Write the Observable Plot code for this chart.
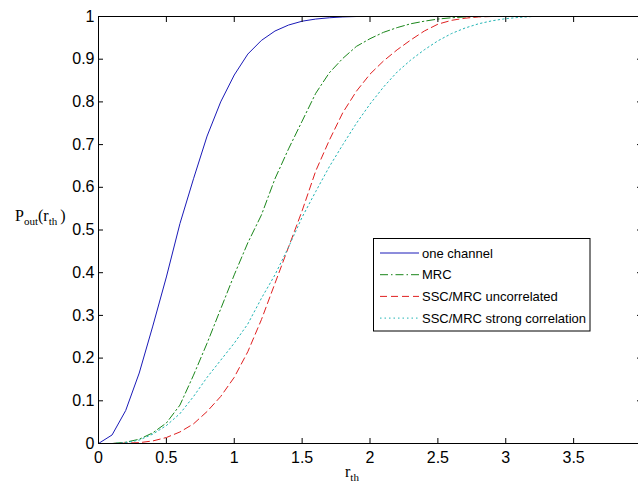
<!DOCTYPE html>
<html><head><meta charset="utf-8">
<script src="https://cdn.jsdelivr.net/npm/d3@7"></script>
<script src="https://cdn.jsdelivr.net/npm/@observablehq/plot@0.6"></script>
<style>
html,body{margin:0;padding:0;background:#fff;overflow:hidden;width:638px;height:484px}
#chart{position:relative;width:645px;height:484px}
</style></head><body><div id="chart"></div>
<script>
const xs = [0,0.1,0.2,0.3,0.4,0.5,0.6,0.7,0.8,0.9,1.0,1.1,1.2,1.3,1.4,1.5,1.6,1.7,1.8,1.9,2.0,2.1,2.2,2.3,2.4,2.5,2.6,2.7,2.8,2.9,3.0,3.1,3.2,4.0];
const oneChannel = [0,0.02,0.077,0.165,0.275,0.39,0.515,0.62,0.72,0.80,0.863,0.912,0.944,0.966,0.98,0.989,0.994,0.997,0.999,1,1,1,1,1,1,1,1,1,1,1,1,1,1,1];
const mrc = [0,0,0.003,0.01,0.025,0.048,0.09,0.16,0.235,0.315,0.395,0.47,0.535,0.62,0.69,0.755,0.82,0.868,0.902,0.93,0.948,0.963,0.974,0.983,0.989,0.994,0.997,0.999,1,1,1,1,1,1];
const sscUncorrelated = [0,0,0.001,0.002,0.006,0.014,0.027,0.046,0.075,0.11,0.155,0.215,0.29,0.375,0.46,0.545,0.638,0.71,0.775,0.825,0.865,0.896,0.922,0.945,0.966,0.982,0.991,0.996,0.999,1,1,1,1,1];
const sscStrongCorr = [0,0,0.002,0.008,0.022,0.042,0.07,0.11,0.155,0.195,0.235,0.28,0.34,0.395,0.46,0.53,0.59,0.648,0.70,0.75,0.795,0.835,0.87,0.898,0.922,0.943,0.96,0.973,0.983,0.99,0.995,0.998,1,1];

const seriesNames = ["one channel","MRC","SSC/MRC uncorrelated","SSC/MRC strong correlation"];
const seriesColors = ["#1a1ab8","#1a861a","#e02020","#20b4b4"];
const seriesDash = [null,"8,3,1.5,3","7,4","1.5,3"];
const xTicks = [0,0.5,1,1.5,2,2.5,3,3.5,4];
const xTickLabels = ["0","0.5","1","1.5","2","2.5","3","3.5",""];
const yTicks = [0,0.1,0.2,0.3,0.4,0.5,0.6,0.7,0.8,0.9,1];
const yTickLabels = ["0","0.1","0.2","0.3","0.4","0.5","0.6","0.7","0.8","0.9","1"];

const seriesValues = [oneChannel, mrc, sscUncorrelated, sscStrongCorr];
const rows = [];
seriesValues.forEach((vals, i) => vals.forEach((v, j) => rows.push({x: xs[j], y: v, s: seriesNames[i]})));

const tickFont = "'Liberation Sans Narrow','Arial Narrow','Liberation Sans',sans-serif";
const W = 645, H = 484;
const chart = Plot.plot({
  width: W, height: H,
  marginLeft: 98, marginRight: 4, marginTop: 16, marginBottom: 41,
  x: {domain: [0, 4], label: null},
  y: {domain: [0, 1], label: null},
  style: {fontFamily: tickFont, fontSize: "16px", color: "#000", background: "#fff", overflow: "visible"},
  marks: [
    ...seriesNames.map((n, i) => Plot.line(rows.filter(r => r.s === n), {
      x: "x", y: "y", stroke: seriesColors[i], strokeWidth: 1, strokeDasharray: seriesDash[i]
    })),
    Plot.axisX(xTicks, {anchor: "bottom", tickSize: -5, tickPadding: 13, label: null, stroke: "#000",
      tickFormat: d => xTickLabels[xTicks.indexOf(d)]}),
    Plot.axisX(xTicks, {anchor: "top", tickSize: -5, label: null, stroke: "#000", tickFormat: () => ""}),
    Plot.axisY(yTicks, {anchor: "left", tickSize: -5, tickPadding: 9, label: null, stroke: "#000",
      tickFormat: d => yTickLabels[yTicks.indexOf(d)]}),
    Plot.axisY(yTicks, {anchor: "right", tickSize: -5, label: null, stroke: "#000", tickFormat: () => ""}),
    Plot.frame({stroke: "#000"})
  ]
});
document.getElementById("chart").appendChild(chart);

const svg = d3.select(chart);
const serif = "'Liberation Serif','Times New Roman',serif";
// y label
const yl = svg.append("text").attr("x", 15).attr("y", 221).attr("text-anchor", "start")
  .attr("font-family", serif).attr("font-size", 16).attr("fill", "#000");
yl.append("tspan").text("P");
yl.append("tspan").attr("font-size", 11).attr("dy", 4).text("out");
yl.append("tspan").attr("dy", -4).text("(r");
yl.append("tspan").attr("font-size", 11).attr("dy", 4).text("th");
yl.append("tspan").attr("dy", -4).attr("dx", 3).text(")");
// x label
const xl = svg.append("text").attr("x", 345).attr("y", 477).attr("text-anchor", "start")
  .attr("font-family", serif).attr("font-size", 16).attr("fill", "#000");
xl.append("tspan").text("r");
xl.append("tspan").attr("font-size", 11).attr("dy", 4).text("th");

// legend
const lg = svg.append("g").attr("text-anchor", "start");
lg.append("rect").attr("x", 373.5).attr("y", 238.5).attr("width", 216.5).attr("height", 92.5)
  .attr("fill", "#fff").attr("stroke", "#000").attr("stroke-width", 1);
seriesNames.forEach((n, i) => {
  const yy = 253 + 21.7 * i;
  lg.append("line").attr("x1", 380).attr("x2", 419).attr("y1", yy).attr("y2", yy)
    .attr("stroke", seriesColors[i]).attr("stroke-width", 1).attr("stroke-dasharray", seriesDash[i]);
  lg.append("text").attr("x", 422).attr("y", yy).attr("dy", "0.35em").attr("text-anchor", "start")
    .attr("font-family", "'Liberation Sans','Arial',sans-serif").attr("font-size", 13).attr("fill", "#000").text(n);
});
</script>
</body></html>
